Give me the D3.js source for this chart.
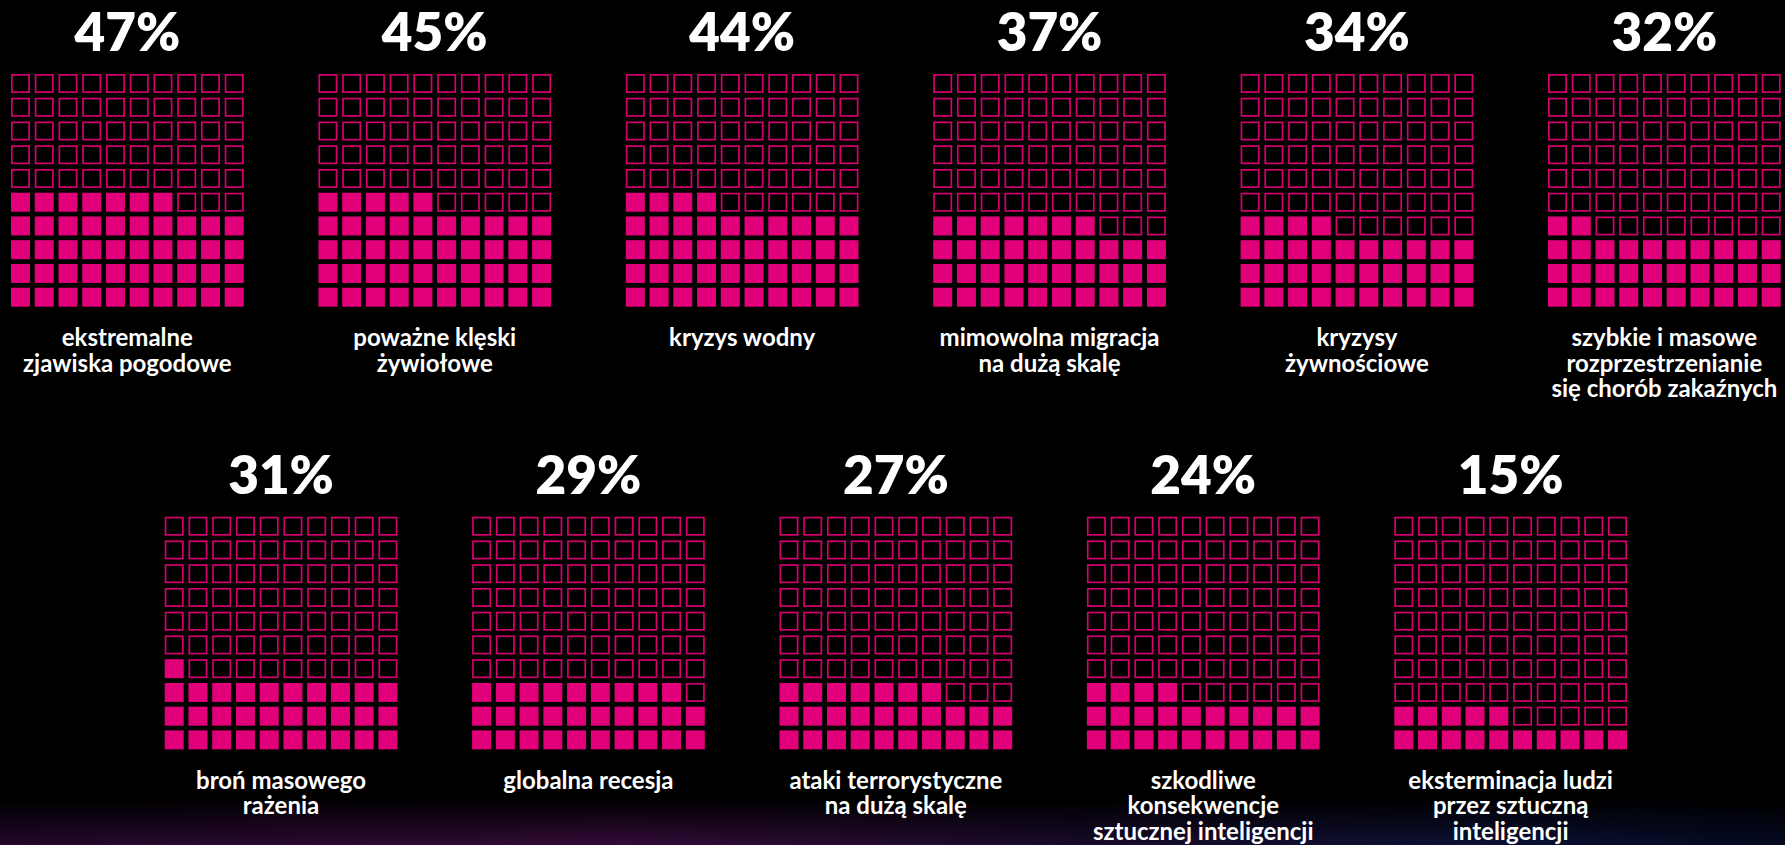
<!DOCTYPE html>
<html>
<head>
<meta charset="utf-8">
<script src="https://cdn.jsdelivr.net/npm/d3@7"></script>
<style>
  html, body { margin: 0; padding: 0; background: #000; }
  svg { display: block; }
  text { font-family: Lato, "Noto Sans", sans-serif; font-weight: 700; fill: #fff; }
</style>
</head>
<body>
<svg id="chart" width="1785" height="845"></svg>
<script>
// Risk categories (label lines) and the share of respondents naming each one
const categories = [
  ["ekstremalne", "zjawiska pogodowe"],
  ["poważne klęski", "żywiołowe"],
  ["kryzys wodny"],
  ["mimowolna migracja", "na dużą skalę"],
  ["kryzysy", "żywnościowe"],
  ["szybkie i masowe", "rozprzestrzenianie", "się chorób zakaźnych"],
  ["broń masowego", "rażenia"],
  ["globalna recesja"],
  ["ataki terrorystyczne", "na dużą skalę"],
  ["szkodliwe", "konsekwencje", "sztucznej inteligencji"],
  ["eksterminacja ludzi", "przez sztuczną", "inteligencji"]
];
const values = [47, 45, 44, 37, 34, 32, 31, 29, 27, 24, 15];
// Panels per row of the layout
const rowSizes = [6, 5];

const W = 1785, H = 845;
const svg = d3.select("#chart");

// Background: black with a faint glow along the bottom edge
const defs = svg.append("defs");
const hGrad = defs.append("linearGradient").attr("id", "glowH").attr("x1", 0).attr("x2", 1).attr("y1", 0).attr("y2", 0);
hGrad.append("stop").attr("offset", "0%").attr("stop-color", "#22072a");
hGrad.append("stop").attr("offset", "35%").attr("stop-color", "#330b38");
hGrad.append("stop").attr("offset", "60%").attr("stop-color", "#180a2a");
hGrad.append("stop").attr("offset", "85%").attr("stop-color", "#0a1034");
hGrad.append("stop").attr("offset", "100%").attr("stop-color", "#050920");
const vGrad = defs.append("linearGradient").attr("id", "glowV").attr("x1", 0).attr("x2", 0).attr("y1", 0).attr("y2", 1);
vGrad.append("stop").attr("offset", "0%").attr("stop-color", "#fff").attr("stop-opacity", 0);
vGrad.append("stop").attr("offset", "100%").attr("stop-color", "#fff").attr("stop-opacity", 1);
defs.append("mask").attr("id", "glowMask")
  .append("rect").attr("x", 0).attr("y", 800).attr("width", W).attr("height", 45).attr("fill", "url(#glowV)");

svg.append("rect").attr("width", W).attr("height", H).attr("fill", "#000");
svg.append("rect").attr("x", 0).attr("y", 800).attr("width", W).attr("height", 45)
  .attr("fill", "url(#glowH)").attr("mask", "url(#glowMask)");

// Layout scales
const panelStep = 307.4;
const gridSize = 232.7;
const rowY = d3.scaleOrdinal().domain([0, 1]).range([0, 442.7]);
const panelX = (row, i) => (row === 0 ? 11 : 11 + panelStep / 2) + i * panelStep;

const cellX = d3.scaleBand().domain(d3.range(10)).range([0, gridSize]).paddingInner(0.2);
const cellY = d3.scaleBand().domain(d3.range(10)).range([74, 74 + gridSize]).paddingInner(0.2);

const FILL = "#e2007a";
const STROKE = "#d6006f";
const SW = 1.7;

// Assemble panel records from the arrays
const panels = [];
let idx = 0;
rowSizes.forEach((n, row) => {
  for (let i = 0; i < n; i++, idx++) {
    panels.push({ row, i, value: values[idx], lines: categories[idx] });
  }
});

const g = svg.selectAll("g.panel").data(panels).join("g")
  .attr("class", "panel")
  .attr("transform", d => `translate(${panelX(d.row, d.i)},${rowY(d.row)})`);

// Percentage headline
g.append("text")
  .attr("x", gridSize / 2)
  .attr("y", 51)
  .attr("text-anchor", "middle")
  .style("font-size", "53px")
  .style("font-weight", 800)
  .text(d => d.value + "%");

// Waffle cells: filled from the bottom row, left to right
const bw = cellX.bandwidth();
g.selectAll("rect.cell")
  .data(d => d3.range(100).map(k => ({ k, filled: k < d.value })))
  .join("rect")
  .attr("class", "cell")
  .each(function (c) {
    const col = c.k % 10, rowFromBottom = Math.floor(c.k / 10);
    const x = cellX(col), y = cellY(9 - rowFromBottom);
    const s = d3.select(this);
    if (c.filled) {
      s.attr("x", x).attr("y", y).attr("width", bw).attr("height", bw)
        .attr("fill", FILL);
    } else {
      s.attr("x", x + SW / 2).attr("y", y + SW / 2)
        .attr("width", bw - SW).attr("height", bw - SW)
        .attr("fill", "none").attr("stroke", STROKE).attr("stroke-width", SW);
    }
  });

// Category label, one tspan per line
g.append("text")
  .attr("text-anchor", "middle")
  .style("font-size", "24px")
  .selectAll("tspan")
  .data(d => d.lines)
  .join("tspan")
  .attr("x", gridSize / 2)
  .attr("y", (l, j) => 346 + j * 25.5)
  .text(l => l);
</script>
</body>
</html>
